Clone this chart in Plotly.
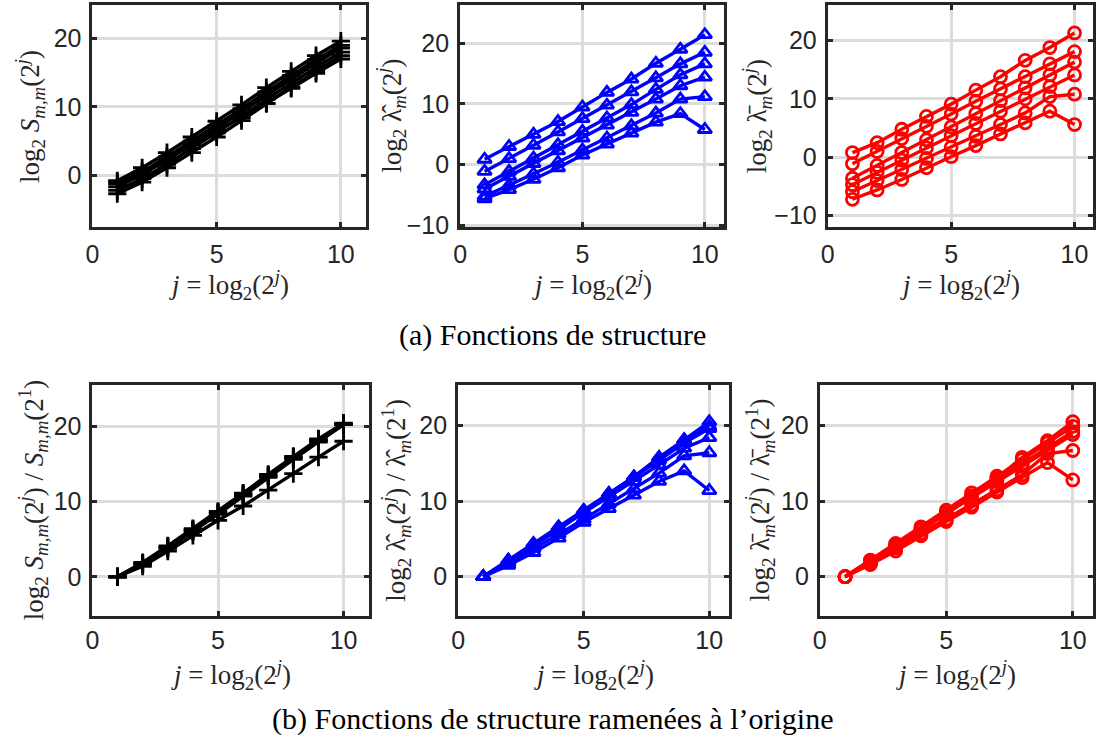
import plotly.graph_objects as go

W, H = 1099, 749

# scales j = 1..10
J = [1, 2, 3, 4, 5, 6, 7, 8, 9, 10]

# log2 S_{m,m}(2^j), one list per component m
S_1 = [-0.8, 1.1, 3.3, 5.6, 7.9, 10.3, 12.8, 15.2, 17.5, 19.6]
S_2 = [-1.3, 0.5, 2.7, 5.0, 7.3, 9.7, 12.2, 14.6, 16.9, 19.0]
S_3 = [-1.7, 0.1, 2.2, 4.5, 6.8, 9.2, 11.7, 14.1, 16.4, 18.6]
S_4 = [-2.2, -0.5, 1.6, 3.9, 6.2, 8.6, 11.1, 13.5, 15.8, 18.0]
S_5 = [-2.7, -1.0, 1.1, 3.3, 5.6, 8.0, 10.5, 12.9, 15.2, 17.5]
S_6 = [-1.0, 0.4, 2.4, 4.5, 6.5, 8.4, 10.5, 12.7, 14.9, 17.0]

# log2 lambda-hat_m(2^j)
LH_1 = [0.9, 3.0, 5.0, 7.1, 9.5, 11.9, 14.1, 16.7, 19.0, 21.4]
LH_2 = [-1.1, 1.0, 3.2, 5.4, 7.6, 9.8, 12.0, 14.3, 16.6, 18.5]
LH_3 = [-3.3, -1.1, 1.1, 3.3, 5.5, 7.7, 9.9, 12.4, 14.8, 16.6]
LH_4 = [-4.0, -1.9, 0.2, 2.3, 4.4, 6.5, 8.6, 10.8, 13.0, 14.4]
LH_5 = [-5.2, -3.4, -1.5, 0.4, 2.4, 4.4, 6.4, 8.5, 10.8, 11.2]
LH_6 = [-5.6, -4.1, -2.4, -0.5, 1.6, 3.4, 5.2, 7.0, 8.4, 5.8]

# log2 lambda-bar_m(2^j)
LB_1 = [0.8, 2.5, 4.8, 7.0, 9.1, 11.5, 13.8, 16.6, 18.8, 21.3]
LB_2 = [-1.1, 1.0, 3.2, 5.3, 7.4, 9.6, 11.7, 13.8, 16.0, 18.1]
LB_3 = [-3.6, -1.4, 0.8, 3.0, 5.2, 7.5, 9.7, 11.9, 14.1, 16.3]
LB_4 = [-4.7, -2.6, -0.5, 1.6, 3.7, 5.8, 7.9, 10.0, 12.1, 14.1]
LB_5 = [-5.9, -4.0, -2.1, -0.2, 1.7, 3.6, 5.6, 7.6, 10.4, 10.8]
LB_6 = [-7.2, -5.6, -3.8, -1.8, 0.1, 2.0, 4.0, 5.9, 7.9, 5.6]

S_ALL = [S_1, S_2, S_3, S_4, S_5, S_6]
LH_ALL = [LH_1, LH_2, LH_3, LH_4, LH_5, LH_6]
LB_ALL = [LB_1, LB_2, LB_3, LB_4, LB_5, LB_6]

X_TICKS = [0, 5, 10]
XLABEL = "<i>j</i> = log<sub>2</sub>(2<sup><i>j</i></sup>)"
CAPTION_A = "(a) Fonctions de structure"
CAPTION_B = "(b) Fonctions de structure ramenées à l\u2019origine"


def origin(series):
    """Shift each curve so that it starts at zero (value at j=1)."""
    return [[v - s[0] for v in s] for s in series]


SERIF = "Liberation Serif"
SANS = "Liberation Sans"
INK = "#262626"

LH = "\u03bb\u0302<sub><i>m</i></sub>"
LBAR = "\u03bb\u0304<sub><i>m</i></sub>"
SMM = "<i>S</i><sub><i>m,m</i></sub>"

# box = (left, right, top, bottom) in pixels; tick_off = gap frame -> tick labels
panels = [
    dict(data=S_ALL, color="#000000", symbol="cross-thin", msize=13,
         box=(86, 361, 5, 231), xr=[0, 11.0], yr=[-7.6, 24.9], yt=[0, 10, 20],
         ylab=f"log<sub>2</sub> {SMM}(2<sup><i>j</i></sup>)", ylx=23, xly=290, tick_off=3),
    dict(data=LH_ALL, color="#0000ff", symbol="triangle-up-open", msize=12,
         box=(456, 722, 5, 231), xr=[0, 10.8], yr=[-10.3, 26.3], yt=[-10, 0, 10, 20],
         ylab=f"log<sub>2</sub> {LH}(2<sup><i>j</i></sup>)", ylx=387, xly=290, tick_off=3),
    dict(data=LB_ALL, color="#ff0000", symbol="circle-open", msize=12,
         box=(826, 1093, 5, 231), xr=[0, 10.75], yr=[-12.0, 26.1], yt=[-10, 0, 10, 20],
         ylab=f"log<sub>2</sub> {LBAR}(2<sup><i>j</i></sup>)", ylx=755, xly=290, tick_off=3),
    dict(data=origin(S_ALL), color="#000000", symbol="cross-thin", msize=13,
         box=(86, 364, 391, 626), xr=[0, 11.0], yr=[-5.2, 25.5], yt=[0, 10, 20],
         ylab=f"log<sub>2</sub> {SMM}(2<sup><i>j</i></sup>) / {SMM}(2<sup>1</sup>)",
         ylx=27, xly=686, tick_off=0),
    dict(data=origin(LH_ALL), color="#0000ff", symbol="triangle-up-open", msize=12,
         box=(454, 727, 391, 626), xr=[0, 10.8], yr=[-5.2, 25.4], yt=[0, 10, 20],
         ylab=f"log<sub>2</sub> {LH}(2<sup><i>j</i></sup>) / {LH}(2<sup>1</sup>)",
         ylx=392, xly=686, tick_off=0),
    dict(data=origin(LB_ALL), color="#ff0000", symbol="circle-open", msize=12,
         box=(818, 1093, 391, 626), xr=[0, 10.8], yr=[-5.2, 25.4], yt=[0, 10, 20],
         ylab=f"log<sub>2</sub> {LBAR}(2<sup><i>j</i></sup>) / {LBAR}(2<sup>1</sup>)",
         ylx=758, xly=686, tick_off=0),
]

TICK_SIZE = 25
LABEL_SIZE = 27

fig = go.Figure()
annotations = []
layout_axes = {}

for i, p in enumerate(panels, start=1):
    x0, x1, y0, y1 = p["box"]
    xa, ya = f"x{i}", f"y{i}"
    for s in p["data"]:
        fig.add_trace(go.Scatter(
            x=J, y=s, xaxis=xa, yaxis=ya, mode="lines+markers",
            line=dict(color=p["color"], width=3.4),
            marker=dict(symbol=p["symbol"], size=p["msize"], color=p["color"],
                        line=dict(color=p["color"], width=2.8)),
            showlegend=False, hoverinfo="skip",
        ))
    common = dict(
        showline=True, linecolor=INK, linewidth=3, mirror="allticks",
        ticks="inside", ticklen=5, tickwidth=2.5, tickcolor=INK,
        showgrid=True, gridcolor="#dcdcdc", gridwidth=2.5, zeroline=False,
        tickfont=dict(family=SANS, size=TICK_SIZE, color=INK),
    )
    layout_axes[f"xaxis{i}"] = dict(
        common, domain=[x0 / W, x1 / W], anchor=ya, range=p["xr"],
        tickvals=X_TICKS, ticklabelstandoff=p["tick_off"],
    )
    layout_axes[f"yaxis{i}"] = dict(
        common, domain=[1 - y1 / H, 1 - y0 / H], anchor=xa, range=p["yr"],
        tickvals=p["yt"], ticklabelstandoff=3,
    )
    annotations.append(dict(
        text=p["ylab"], xref="paper", yref="paper",
        x=p["ylx"] / W, y=1 - (y0 + y1) / 2 / H, textangle=-90,
        showarrow=False, xanchor="center", yanchor="middle",
        font=dict(family=SERIF, size=LABEL_SIZE, color=INK),
    ))
    annotations.append(dict(
        text=XLABEL, xref="paper", yref="paper",
        x=(x0 + x1) / 2 / W, y=1 - p["xly"] / H,
        showarrow=False, xanchor="center", yanchor="middle",
        font=dict(family=SERIF, size=LABEL_SIZE, color=INK),
    ))

for text, ypx in [(CAPTION_A, 340), (CAPTION_B, 731)]:
    annotations.append(dict(
        text=text, xref="paper", yref="paper", x=549 / W, y=1 - ypx / H,
        showarrow=False, xanchor="center", yanchor="middle",
        font=dict(family=SERIF, size=30, color="#000000"),
    ))

fig.update_layout(
    width=W, height=H, margin=dict(l=0, r=0, t=0, b=0),
    paper_bgcolor="white", plot_bgcolor="white",
    annotations=annotations, showlegend=False,
    **layout_axes,
)

fig.write_html("out.html", config=dict(displayModeBar=False))
